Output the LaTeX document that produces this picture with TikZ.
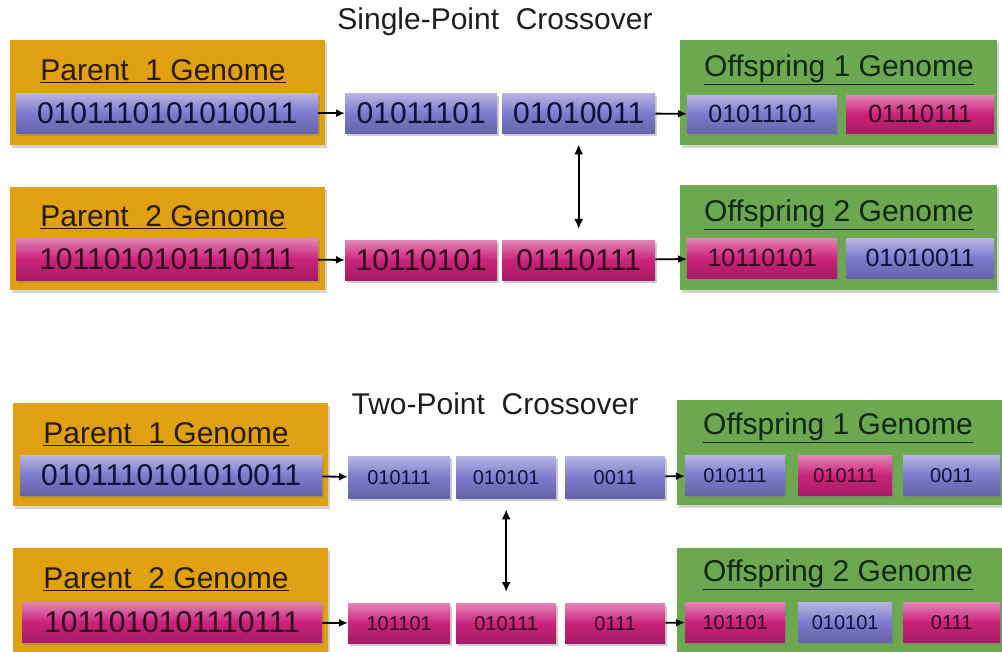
\documentclass[tikz,border=0pt]{standalone}
\usepackage{fontspec}
\setmainfont{Liberation Sans}
\usetikzlibrary{arrows.meta,shadows,calc}

\definecolor{orangeBox}{RGB}{223,160,18}
\definecolor{greenBox}{RGB}{108,168,80}
\definecolor{blueGene}{RGB}{124,122,204}
\definecolor{pinkGene}{RGB}{202,34,122}
\definecolor{navyText}{RGB}{16,16,58}
\definecolor{wineText}{RGB}{48,6,26}
\definecolor{brownText}{RGB}{40,26,4}
\definecolor{forestText}{RGB}{12,40,14}
\definecolor{titleText}{RGB}{30,30,30}

\tikzset{
  box/.style 2 args={minimum width=#1pt, minimum height=#2pt},
  panel/.style={anchor=north west, inner sep=0pt, draw=none,
    drop shadow={shadow xshift=2pt, shadow yshift=-3pt, opacity=.35}},
  parentpanel/.style={panel, fill=orangeBox},
  childpanel/.style={panel, fill=greenBox},
  gene/.style={anchor=north west, inner sep=0pt, draw=none,
    drop shadow={shadow xshift=1.5pt, shadow yshift=-2.5pt, opacity=.4}},
  bluegene/.style={gene, top color=blueGene!55!white, bottom color=blueGene!82!black,
    middle color=blueGene, text=navyText},
  pinkgene/.style={gene, top color=pinkGene!55!white, bottom color=pinkGene!82!black,
    middle color=pinkGene, text=wineText},
  big/.style={font=\fontsize{30}{32}\selectfont},
  mid/.style={font=\fontsize{25}{27}\selectfont},
  small/.style={font=\fontsize{20}{22}\selectfont},
  plabel/.style={font=\fontsize{30}{32}\selectfont, text=brownText, inner sep=0pt},
  clabel/.style={font=\fontsize{30}{32}\selectfont, text=forestText, inner sep=0pt},
  heading/.style={font=\fontsize{30}{32}\selectfont, text=titleText, inner sep=0pt},
  flow/.style={-{Latex[length=9pt,width=8pt]}, line width=1.8pt},
  swap/.style={{Latex[length=10pt,width=9pt]}-{Latex[length=10pt,width=9pt]}, line width=1.8pt,
    shorten <=11pt, shorten >=11pt},
}

\begin{document}
\begin{tikzpicture}[x=1pt,y=-1pt]
\useasboundingbox (0,0) rectangle (1002,652);

% ---------------- single-point crossover ----------------
\node[heading] (t1) at (495,22) {Single-Point\ \ Crossover};

\node[parentpanel, box={315}{105}] (P1) at (10,40) {};
\node[plabel] (P1l) at (163,71) {\underline{Parent\ \ 1 Genome}};
\node[bluegene, big, box={302}{40}] (P1s) at (16,93) {0101110101010011};

\node[parentpanel, box={315}{103}] (P2) at (10,187) {};
\node[plabel] (P2l) at (163,217) {\underline{Parent\ \ 2 Genome}};
\node[pinkgene, big, box={302}{42}] (P2s) at (16,238) {1011010101110111};

\node[bluegene, big, box={152}{40}] (A1) at (345,93) {01011101};
\node[bluegene, big, box={153}{40}] (A2) at (502,93) {01010011};
\node[pinkgene, big, box={152}{40}] (B1) at (345,240) {10110101};
\node[pinkgene, big, box={153}{40}] (B2) at (502,240) {01110111};

\node[childpanel, box={317}{105}] (C1) at (680,40) {};
\node[clabel] (C1l) at (839,70) {\underline{Offspring 1 Genome}};
\node[bluegene, mid, box={150}{38}] (C1a) at (687,95) {01011101};
\node[pinkgene, mid, box={148}{38}] (C1b) at (846,95) {01110111};

\node[childpanel, box={317}{105}] (C2) at (680,185) {};
\node[clabel] (C2l) at (839,215) {\underline{Offspring 2 Genome}};
\node[pinkgene, mid, box={150}{40}] (C2a) at (687,238) {10110101};
\node[bluegene, mid, box={148}{40}] (C2b) at (846,238) {01010011};

\draw[flow] (P1s) -- (A1);
\draw[flow] (P2s) -- (B1);
\draw[flow] (A2) -- (C1a);
\draw[flow] (B2) -- (C2a);
\draw[swap] (A2.south) -- (B2.north);

% ---------------- two-point crossover ----------------
\node[heading] (t2) at (495,404) {Two-Point\ \ Crossover};

\node[parentpanel, box={315}{103}] (Q1) at (13,403) {};
\node[plabel] (Q1l) at (166,434) {\underline{Parent\ \ 1 Genome}};
\node[bluegene, big, box={302}{40}] (Q1s) at (20,455) {0101110101010011};

\node[parentpanel, box={315}{104}] (Q2) at (13,548) {};
\node[plabel] (Q2l) at (166,579) {\underline{Parent\ \ 2 Genome}};
\node[pinkgene, big, box={300}{40}] (Q2s) at (22,602) {1011010101110111};

\node[bluegene, small, box={102}{42}] (D1) at (348,456) {010111};
\node[bluegene, small, box={100}{42}] (D2) at (456,456) {010101};
\node[bluegene, small, box={100}{42}] (D3) at (565,456) {0011};
\node[pinkgene, small, box={102}{40}] (E1) at (348,603) {101101};
\node[pinkgene, small, box={100}{40}] (E2) at (456,603) {010111};
\node[pinkgene, small, box={100}{40}] (E3) at (565,603) {0111};

\node[childpanel, box={325}{105}] (K1) at (677,400) {};
\node[clabel] (K1l) at (838,428) {\underline{Offspring 1 Genome}};
\node[bluegene, small, box={100}{40}] (K1a) at (685,455) {010111};
\node[pinkgene, small, box={94}{40}] (K1b) at (798,455) {010111};
\node[bluegene, small, box={97}{40}] (K1c) at (903,455) {0011};

\node[childpanel, box={325}{104}] (K2) at (677,548) {};
\node[clabel] (K2l) at (838,575) {\underline{Offspring 2 Genome}};
\node[pinkgene, small, box={100}{40}] (K2a) at (685,602) {101101};
\node[bluegene, small, box={94}{40}] (K2b) at (798,602) {010101};
\node[pinkgene, small, box={97}{40}] (K2c) at (903,602) {0111};

\draw[flow] (Q1s) -- (D1);
\draw[flow] (Q2s) -- (E1);
\draw[flow] (D3) -- (K1a);
\draw[flow] (E3) -- (K2a);
\draw[swap] (D2.south) -- (E2.north);
\end{tikzpicture}
\end{document}
